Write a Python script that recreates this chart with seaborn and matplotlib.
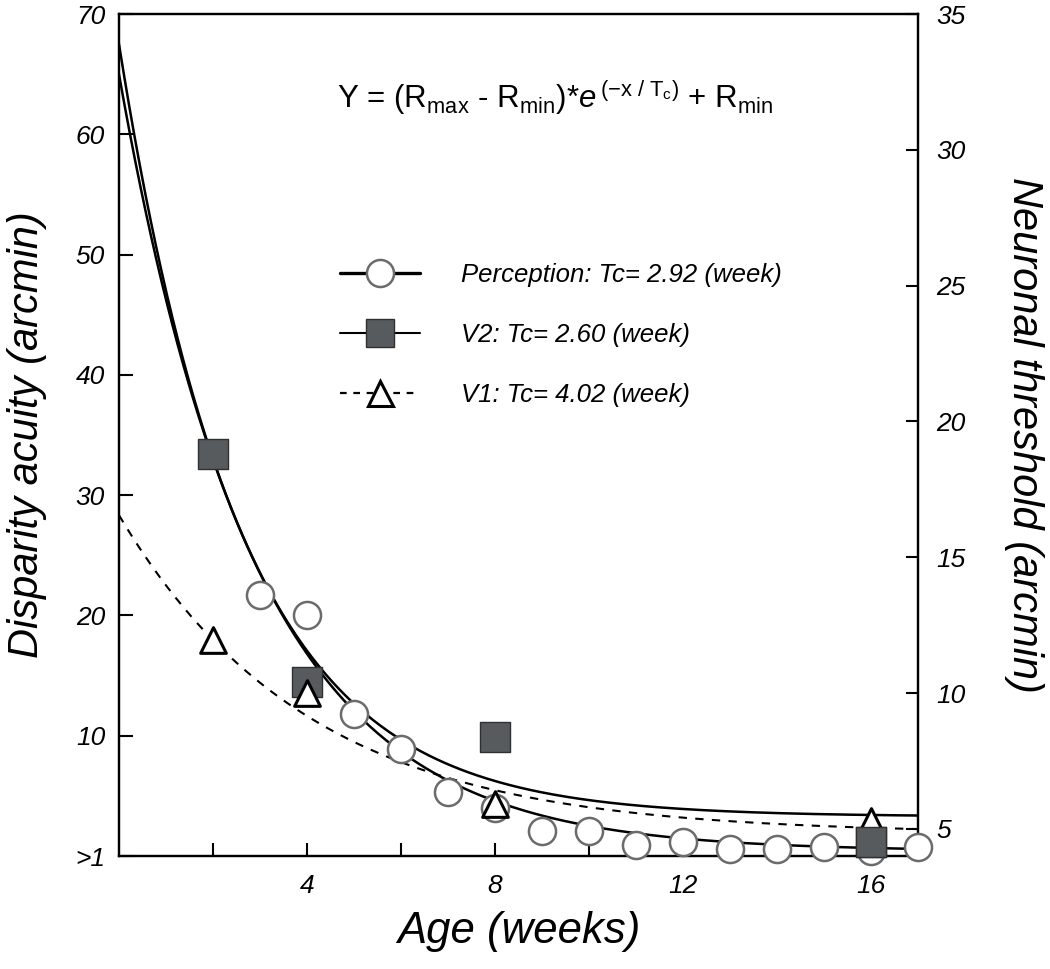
import numpy as np
import pandas as pd
import matplotlib
matplotlib.use("Agg")
import matplotlib.pyplot as plt
import seaborn as sns
from matplotlib.lines import Line2D

# ---------------- data ----------------
weeks_perception = [3, 4, 5, 6, 7, 8, 9, 10, 11, 12, 13, 14, 15, 16, 17]
perception_acuity = [21.7, 20.0, 11.8, 8.9, 5.3, 4.0, 2.1, 2.1, 0.9, 1.2, 0.6, 0.6, 0.75, 0.4, 0.75]

weeks_v2 = [2, 4, 8, 16]
v2_threshold = [18.8, 10.4, 8.4, 4.5]

weeks_v1 = [2, 4, 8, 16]
v1_threshold = [11.95, 10.0, 5.9, 5.3]

# exponential fit parameters  Y = (Rmax - Rmin) * exp(-x / Tc) + Rmin
perc_rmax, perc_rmin, perc_tc = 65.0, 0.4, 2.92
v2_rmax, v2_rmin, v2_tc = 33.9, 5.45, 2.60
v1_rmax, v1_rmin, v1_tc = 16.55, 4.82, 4.02

x_ticks = [2, 4, 6, 8, 10, 12, 14, 16]
x_tick_labels = ["", "4", "", "8", "", "12", "", "16"]
left_ticks = [0, 10, 20, 30, 40, 50, 60, 70]
left_tick_labels = [">1", "10", "20", "30", "40", "50", "60", "70"]
right_ticks = [5, 10, 15, 20, 25, 30, 35]
right_tick_labels = ["5", "10", "15", "20", "25", "30", "35"]

legend_labels = ["Perception: Tc= 2.92 (week)", "V2: Tc= 2.60 (week)", "V1: Tc= 4.02 (week)"]

# ---------------- style ----------------
sns.set_style("ticks")
plt.rcParams["font.family"] = ["Liberation Sans", "DejaVu Sans"]
plt.rcParams["mathtext.fontset"] = "custom"
plt.rcParams["mathtext.rm"] = "Liberation Sans"
plt.rcParams["mathtext.it"] = "Liberation Sans:italic"
plt.rcParams["mathtext.bf"] = "Liberation Sans:bold"
for key in ("text.color", "axes.labelcolor", "xtick.color", "ytick.color",
            "xtick.labelcolor", "ytick.labelcolor"):
    plt.rcParams[key] = "black"

fig = plt.figure(figsize=(10.5, 9.69), dpi=100)
fig.patch.set_facecolor("white")
ax = fig.add_axes([0.1133, 0.1166, 0.76095, 0.86893])
ax2 = ax.twinx()

xfit = np.linspace(0, 17, 300)
perc_fit = (perc_rmax - perc_rmin) * np.exp(-xfit / perc_tc) + perc_rmin
v2_fit = (v2_rmax - v2_rmin) * np.exp(-xfit / v2_tc) + v2_rmin
v1_fit = (v1_rmax - v1_rmin) * np.exp(-xfit / v1_tc) + v1_rmin

sq_face = "#575b5e"
sq_edge = "#2e3133"
circ_edge = "#6b6b6b"

# perception fit on left axis
sns.lineplot(x=xfit, y=perc_fit, ax=ax, color="black", lw=1.8, zorder=2)
# V2 / V1 fits on right axis
sns.lineplot(x=xfit, y=v2_fit, ax=ax2, color="black", lw=1.8, zorder=2)
sns.lineplot(x=xfit, y=v1_fit, ax=ax2, color="black", lw=1.5,
             linestyle=(0, (4, 4)), zorder=2)

# perception circles (left-axis scale, drawn in the top layer)
sns.scatterplot(x=weeks_perception, y=perception_acuity, ax=ax2, transform=ax.transData,
                marker="o", s=19.5 ** 2, color="white", edgecolor=circ_edge,
                linewidth=1.8, zorder=3, clip_on=False)
sns.scatterplot(x=weeks_v2, y=v2_threshold, ax=ax2, marker="s", s=21 ** 2,
                color=sq_face, edgecolor=sq_edge, linewidth=1.0, zorder=4, clip_on=False)
sns.scatterplot(x=weeks_v1, y=v1_threshold, ax=ax2, marker="^", s=18.5 ** 2,
                color="white", edgecolor="black", linewidth=2.2, zorder=5, clip_on=False)
# square at week 16 covers the triangle like in the original
sns.scatterplot(x=weeks_v2[3:], y=v2_threshold[3:], ax=ax2, marker="s", s=21 ** 2,
                color=sq_face, edgecolor=sq_edge, linewidth=1.0, zorder=6, clip_on=False)

# ---------------- axes ----------------
ax.set_xlim(0, 17)
ax.set_ylim(0, 70)
ax2.set_ylim(4, 35)

ax.set_xticks(x_ticks)
ax.set_xticklabels(x_tick_labels)
ax.set_yticks(left_ticks)
ax.set_yticklabels(left_tick_labels)
ax2.set_yticks(right_ticks)
ax2.set_yticklabels(right_tick_labels)

ax.tick_params(axis="x", direction="in", length=9.5, width=1.5, pad=13, labelsize=19,
               top=False, bottom=True, colors="black")
ax.tick_params(axis="y", direction="in", length=10, width=1.5, pad=10, labelsize=19,
               left=True, right=False, colors="black")
ax2.tick_params(axis="y", direction="in", length=9, width=1.5, pad=13, labelsize=19,
                right=True, left=False, colors="black")

for lbl in ax.get_xticklabels() + ax.get_yticklabels() + ax2.get_yticklabels():
    lbl.set_fontstyle("italic")

for a in (ax, ax2):
    for sp in a.spines.values():
        sp.set_linewidth(1.6)
        sp.set_color("black")

ax.set_xlabel("Age (weeks)", fontsize=31.5, fontstyle="italic", labelpad=9, color="black")
ax.set_ylabel("Disparity acuity (arcmin)", fontsize=30, fontstyle="italic", labelpad=20,
              color="black")
ax2.set_ylabel("Neuronal threshold (arcmin)", fontsize=30, fontstyle="italic",
               rotation=270, va="bottom", labelpad=28, color="black")

# equation
ax.text(0.546, 0.901,
        r"Y = (R$_{\mathrm{max}}$ - R$_{\mathrm{min}}$)*$\mathit{e}^{\,\mathrm{(-x\ /\ T_c)}}$ + R$_{\mathrm{min}}$",
        transform=ax.transAxes, ha="center", va="center", fontsize=22.5, color="black")

# legend
handles = [
    Line2D([0], [0], color="black", lw=2.4, marker="o", markersize=19.5,
           markerfacecolor="white", markeredgecolor=circ_edge, markeredgewidth=1.8),
    Line2D([0], [0], color="black", lw=1.5, marker="s", markersize=20,
           markerfacecolor=sq_face, markeredgecolor=sq_edge, markeredgewidth=1.0),
    Line2D([0], [0], color="black", lw=1.6, linestyle=(0, (3, 3)), marker="^", markersize=18,
           markerfacecolor="white", markeredgecolor="black", markeredgewidth=2.2),
]
leg = ax2.legend(handles, legend_labels, loc="center left", bbox_to_anchor=(0.2766, 0.619),
                 bbox_transform=ax.transAxes, frameon=False,
                 handlelength=3.1, handletextpad=1.6, labelspacing=1.4,
                 borderpad=0, borderaxespad=0, prop={"style": "italic", "size": 18.5})
for t in leg.get_texts():
    t.set_color("black")

fig.savefig("out.png", dpi=100)
